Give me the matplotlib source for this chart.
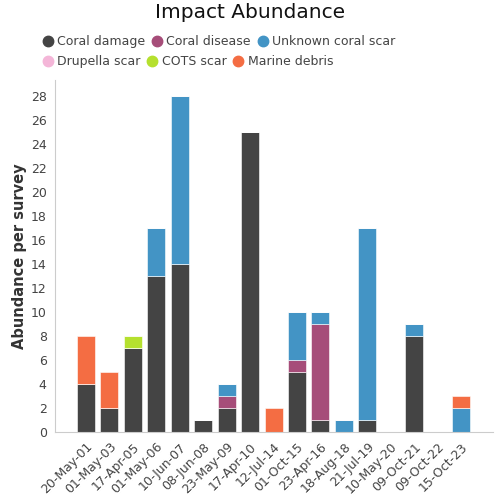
import matplotlib
matplotlib.use("Agg")
import matplotlib.pyplot as plt
from matplotlib.lines import Line2D
import numpy as np

dates = ["20-May-01", "01-May-03", "17-Apr-05", "01-May-06", "10-Jun-07", "08-Jun-08",
         "23-May-09", "17-Apr-10", "12-Jul-14", "01-Oct-15", "23-Apr-16", "18-Aug-18",
         "21-Jul-19", "10-May-20", "09-Oct-21", "09-Oct-22", "15-Oct-23"]

coral_damage = [4, 2, 7, 13, 14, 1, 2, 25, 0, 5, 1, 0, 1, 0, 8, 0, 0]
coral_disease = [0, 0, 0, 0, 0, 0, 1, 0, 0, 1, 8, 0, 0, 0, 0, 0, 0]
unknown_scar = [0, 0, 0, 4, 14, 0, 1, 0, 0, 4, 1, 1, 16, 0, 1, 0, 2]
drupella_scar = [0] * 17
cots_scar = [0, 0, 1, 0, 0, 0, 0, 0, 0, 0, 0, 0, 0, 0, 0, 0, 0]
marine_debris = [4, 3, 0, 0, 0, 0, 0, 0, 2, 0, 0, 0, 0, 0, 0, 0, 1]

series = [
    ("Coral damage", coral_damage, "#444444"),
    ("Coral disease", coral_disease, "#a64d79"),
    ("Unknown coral scar", unknown_scar, "#4394c5"),
    ("Drupella scar", drupella_scar, "#f4b6d8"),
    ("COTS scar", cots_scar, "#b5e02e"),
    ("Marine debris", marine_debris, "#f46d43"),
]

fig = plt.figure(figsize=(5, 5), dpi=100)
ax = fig.add_axes([0.11, 0.136, 0.876, 0.704])

x = np.arange(len(dates))
bottom = np.zeros(len(dates))
for name, values, color in series:
    vals = np.array(values, dtype=float)
    ax.bar(x, vals, bottom=bottom, width=0.77, color=color,
           edgecolor="#ffffff", linewidth=0.4, label=name)
    bottom += vals

ax.set_xlim(-1.32, len(dates) - 1 + 1.36)
ax.set_ylim(0, 29.3)
ax.set_yticks(range(0, 29, 2))
ax.set_xticks(x)
ax.set_xticklabels(dates, rotation=45, ha="right", rotation_mode="anchor")
ax.tick_params(axis="both", length=0, labelsize=9, colors="#444444", pad=6)
for side in ["top", "right"]:
    ax.spines[side].set_visible(False)
for side in ["left", "bottom"]:
    ax.spines[side].set_color("#cccccc")
ax.set_ylabel("Abundance per survey", fontsize=10.5, fontweight="bold", color="#333333", labelpad=3)

fig.suptitle("Impact Abundance", fontsize=14.5, y=0.993, color="#111111")

def legend_row(items, y):
    handles = [Line2D([0], [0], marker="o", linestyle="", markersize=7.5,
                      markerfacecolor=c, markeredgecolor=c) for _, _, c in items]
    labels = [n for n, _, _ in items]
    leg = fig.legend(handles, labels, loc="upper left", bbox_to_anchor=(0.083, y),
                     ncol=3, frameon=False, fontsize=9, handletextpad=0.25,
                     columnspacing=0.45, handlelength=1.0, borderaxespad=0,
                     borderpad=0)
    for t in leg.get_texts():
        t.set_color("#444444")
    return leg

legend_row(series[:3], 0.93)
legend_row(series[3:], 0.89)

fig.savefig("out.png", dpi=100)
